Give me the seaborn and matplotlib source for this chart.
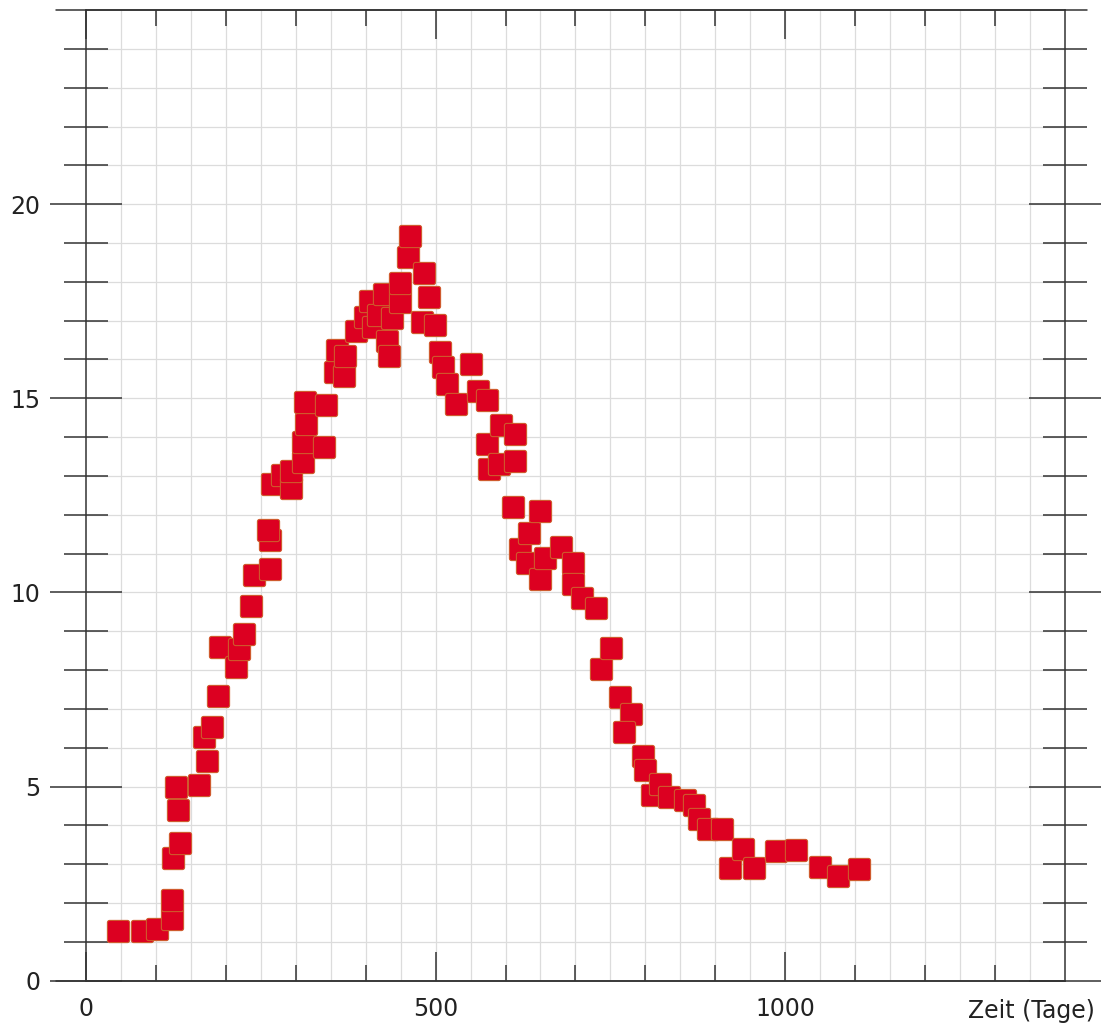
import matplotlib
matplotlib.use("Agg")
import matplotlib.pyplot as plt
import numpy as np
import pandas as pd
import seaborn as sns
from matplotlib.path import Path
from matplotlib.ticker import FixedLocator

tage = [46, 80, 101, 123, 123, 124, 134, 131, 129, 161,
        173, 169, 180, 189, 191, 214, 219, 226, 236, 241,
        263, 263, 260, 266, 281, 293, 293, 310, 311, 314,
        313, 340, 343, 356, 369, 359, 370, 386, 399, 406,
        410, 417, 426, 430, 434, 437, 449, 449, 460, 463,
        480, 483, 491, 499, 506, 510, 516, 529, 551, 560,
        573, 574, 576, 591, 593, 613, 614, 611, 620, 634,
        630, 649, 650, 656, 680, 697, 697, 710, 729, 737,
        751, 764, 780, 770, 796, 799, 809, 821, 834, 856,
        870, 877, 890, 910, 921, 940, 956, 987, 1016, 1049,
        1076, 1106]
werte = [1.28, 1.28, 1.33, 1.6, 2.08, 3.15, 3.55, 4.4, 5.0, 5.04,
         5.66, 6.27, 6.53, 7.33, 8.6, 8.07, 8.54, 8.92, 9.64, 10.45,
         10.6, 11.35, 11.6, 12.79, 13.02, 12.69, 13.13, 13.37, 13.87, 14.33,
         14.9, 13.74, 14.82, 15.68, 15.57, 16.24, 16.1, 16.73, 17.09, 17.5,
         16.83, 17.14, 17.68, 16.48, 16.1, 17.06, 17.47, 17.96, 18.63, 19.17,
         16.97, 18.22, 17.6, 16.9, 16.2, 15.8, 15.37, 14.86, 15.88, 15.2,
         14.95, 13.82, 13.17, 13.3, 14.3, 13.38, 14.08, 12.2, 11.13, 11.53,
         10.77, 10.34, 12.1, 10.9, 11.17, 10.75, 10.21, 9.85, 9.6, 8.04,
         8.57, 7.3, 6.87, 6.4, 5.8, 5.42, 4.78, 5.06, 4.73, 4.66,
         4.53, 4.17, 3.9, 3.9, 2.9, 3.39, 2.9, 3.34, 3.37, 2.94,
         2.7, 2.88]

df = pd.DataFrame({"Zeit": tage, "Wert": werte})

sns.set_style("white")
plt.rcParams["font.family"] = ["DejaVu Sans"]

# abgerundetes Quadrat als Marker
r = 0.2
ecken = [(1 - r, 1 - r), (-1 + r, 1 - r), (-1 + r, -1 + r), (1 - r, -1 + r)]
verts = []
for i, (cx, cy) in enumerate(ecken):
    a = np.linspace(i * np.pi / 2, (i + 1) * np.pi / 2, 8)
    verts += list(zip(cx + r * np.cos(a), cy + r * np.sin(a)))
verts.append(verts[0])
marker = Path(verts, closed=True)

fig = plt.figure(figsize=(11.09, 10.23), dpi=100)
ax = fig.add_axes([0.0775, 0.0413, 0.8828, 0.9489])

ax.set_xlim(0, 1400)
ax.set_ylim(0, 25)

# Gitter
for gx in range(50, 1400, 50):
    ax.axvline(gx, color="#dcdcdc", lw=0.9, zorder=0)
for gy in range(1, 25):
    ax.axhline(gy, color="#dcdcdc", lw=0.9, zorder=0)

sns.scatterplot(data=df, x="Zeit", y="Wert", ax=ax, marker=marker, s=255,
                color="#dc0021", edgecolor="#cf5a2c", linewidth=0.8, zorder=3)

achse = "#333333"
for s in ax.spines.values():
    s.set_color(achse)
    s.set_linewidth(1.1)
# obere/untere Linie ragen links heraus
ax.axhline(0, xmin=-30 / 979, xmax=1, color=achse, lw=1.1, clip_on=False)
ax.axhline(25, xmin=-30 / 979, xmax=1.0225, color=achse, lw=1.1, clip_on=False)

ax.yaxis.set_major_locator(FixedLocator([0, 5, 10, 15, 20]))
ax.yaxis.set_minor_locator(FixedLocator([i for i in range(1, 25) if i % 5]))
ax.xaxis.set_major_locator(FixedLocator([0, 500, 1000]))
ax.xaxis.set_minor_locator(FixedLocator([i for i in range(100, 1400, 100) if i % 500]))

ax.tick_params(axis="y", which="major", direction="inout", length=52, width=1.1,
               color=achse, left=True, right=True, labelsize=17, pad=7)
ax.tick_params(axis="y", which="minor", direction="inout", length=32, width=1.1,
               color=achse, left=True, right=True)
ax.tick_params(axis="x", which="major", direction="in", length=21, width=1.1,
               color=achse, top=True, bottom=True, labelsize=17, pad=12)
ax.tick_params(axis="x", which="minor", direction="in", length=11.5, width=1.1,
               color=achse, top=True, bottom=True)
ax.tick_params(labelcolor="#222222")

ax.set_ylabel("")
ax.set_xlabel("Zeit (Tage)", fontsize=17, color="#222222")
ax.xaxis.set_label_coords(0.966, -0.019)

fig.savefig("out.png", dpi=100)
